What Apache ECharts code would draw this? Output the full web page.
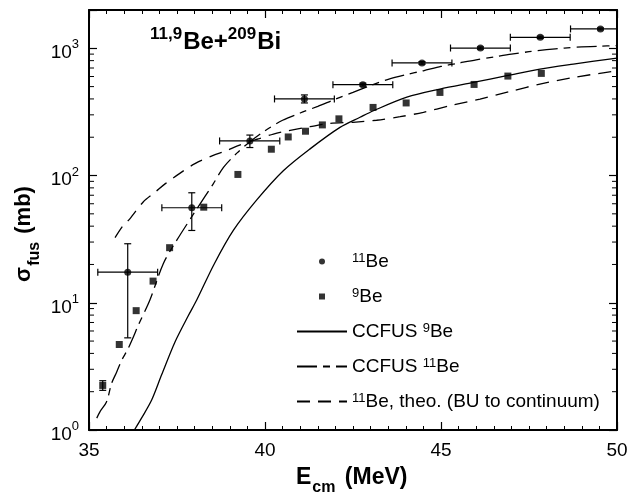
<!DOCTYPE html>
<html><head><meta charset="utf-8">
<script src="https://cdn.jsdelivr.net/npm/echarts@6/dist/echarts.min.js"></script>
<style>html,body{margin:0;padding:0;background:#fff}#c{width:632px;height:493px}</style>
</head><body><div id="c"></div>
<script>
// ---- data ----
const xTicks = [35, 40, 45, 50];
const yMinorTicks = [2,3,4,5,6,7,8,9,20,30,40,50,60,70,80,90,200,300,400,500,600,700,800,900];

// 11Be data (circles) with error bars
const be11E    = [36.10, 37.92, 39.57, 41.12, 42.78, 44.46, 46.12, 47.82, 49.53];
const be11Sig  = [17.4, 55.8, 187, 400, 518, 768, 1005, 1220, 1420];
const be11ELo  = [35.25, 37.07, 38.71, 40.27, 41.93, 43.61, 45.27, 46.97, 48.68];
const be11EHi  = [36.95, 38.77, 40.42, 41.97, 43.63, 45.31, 46.97, 48.67, 50.38];
const be11SLo  = [5.3, 37.0, 166, 372, 505, 750, 985, 1195, 1395];
const be11SHi  = [29.1, 73.2, 208, 430, 532, 786, 1025, 1245, 1445];

// 9Be data (squares)
const be9E   = [35.39, 35.86, 36.34, 36.82, 37.29, 38.26, 39.23, 40.18, 40.66, 41.15, 41.63, 42.10, 43.07, 44.01, 44.97, 45.94, 46.90, 47.85];
const be9Sig = [2.24, 4.70, 8.67, 14.8, 27.1, 56.4, 102, 161, 201, 223, 250, 279, 343, 372, 450, 520, 605, 635];
const be9SLo = [2.05, 4.70, 8.67, 14.8, 27.1, 56.4, 102, 161, 201, 223, 250, 279, 343, 372, 450, 520, 605, 635];
const be9SHi = [2.44, 4.70, 8.67, 14.8, 27.1, 56.4, 102, 161, 201, 223, 250, 279, 343, 372, 450, 520, 605, 635];

// CCFUS 9Be (solid)
const ccfus9E   = [36.29, 36.5, 36.78, 37.06, 37.44, 37.82, 38.06, 38.55, 39.1, 39.76, 40.52, 41.28, 42.13, 42.7, 43.08, 44.03, 44.97, 45.92, 46.87, 47.81, 48.76, 50.0];
const ccfus9Sig = [1.0, 1.25, 1.72, 2.7, 4.9, 7.9, 10.5, 20, 37, 64, 109, 162, 239, 287, 323, 413, 478, 539, 609, 687, 752, 838];

// CCFUS 11Be (dash-dot)
const ccfus11E   = [35.22, 35.31, 35.5, 35.64, 35.79, 35.93, 36.1, 36.26, 36.4, 36.73, 37.11, 37.49, 38.07, 38.53, 38.82, 39.2, 39.6, 40.0, 40.5, 41.0, 41.5, 42.0, 42.5, 43.0, 43.5, 44.0, 44.5, 45.0, 45.5, 46.0, 46.5, 47.0, 47.5, 48.0, 48.5, 49.0, 49.5, 50.0];
const ccfus11Sig = [1.24, 1.39, 1.67, 2.32, 2.87, 3.54, 4.3, 5.39, 6.66, 10.5, 20.3, 30.9, 55, 86, 116, 150, 187, 225, 272, 310, 350, 398, 450, 510, 570, 620, 666, 720, 765, 812, 855, 900, 940, 975, 1005, 1025, 1038, 1050];

// 11Be theo. (BU to continuum) (dashed)
const buE   = [35.74, 35.97, 36.16, 36.54, 36.88, 37.16, 37.6, 38.01, 38.53, 38.86, 39.2, 39.6, 39.81, 40.24, 40.66, 41.28, 41.85, 42.5, 43.17, 43.84, 44.5, 45.26, 46.11, 47.05, 47.81, 48.76, 50.0];
const buSig = [32.5, 40.5, 45.7, 62, 74, 86, 105, 124, 144, 155, 170, 187, 194, 212, 225, 242, 257, 262, 272, 290, 314, 354, 399, 464, 524, 590, 666];

const seriesNames = ['11Be', '9Be', 'CCFUS 9Be', 'CCFUS 11Be', '11Be theo'];
const legendLabels = ['{s|11}Be', '{s|9}Be', 'CCFUS {s|9}Be', 'CCFUS {s|11}Be', '{s|11}Be, theo. (BU to continuum)'];

// ---- chart ----
const FONT = '"Liberation Sans", Arial, sans-serif';
const zip = (a, b) => a.map((v, i) => [v, b[i]]);
const chart = echarts.init(document.getElementById('c'), null, {renderer: 'canvas'});

const X_MIN = 35, X_MAX = 50;

function errRender(params, api) {
  const e = api.value(0), s = api.value(1), el = api.value(2), eh = api.value(3), sl = api.value(4), sh = api.value(5);
  const c = api.coord([e, s]);
  const children = [];
  const st = {stroke: '#000', lineWidth: 1.2};
  if (eh > el) {
    const l = api.coord([el, s]), r = api.coord([eh, s]);
    children.push({type: 'line', shape: {x1: l[0], y1: c[1], x2: r[0], y2: c[1]}, style: st});
    children.push({type: 'line', shape: {x1: l[0], y1: c[1] - 3.5, x2: l[0], y2: c[1] + 3.5}, style: st});
    children.push({type: 'line', shape: {x1: r[0], y1: c[1] - 3.5, x2: r[0], y2: c[1] + 3.5}, style: st});
  }
  if (sh > sl) {
    const b = api.coord([e, sl]), t = api.coord([e, sh]);
    children.push({type: 'line', shape: {x1: c[0], y1: b[1], x2: c[0], y2: t[1]}, style: st});
    children.push({type: 'line', shape: {x1: c[0] - 3.5, y1: b[1], x2: c[0] + 3.5, y2: b[1]}, style: st});
    children.push({type: 'line', shape: {x1: c[0] - 3.5, y1: t[1], x2: c[0] + 3.5, y2: t[1]}, style: st});
  }
  return {type: 'group', children};
}

function minorTickRender(params, api) {
  const v = api.value(1);
  const pl = api.coord([X_MIN, v]), pr = api.coord([X_MAX, v]);
  const st = {stroke: '#000', lineWidth: 1};
  return {type: 'group', children: [
    {type: 'line', shape: {x1: pl[0], y1: pl[1], x2: pl[0] + 5, y2: pl[1]}, style: st},
    {type: 'line', shape: {x1: pr[0] - 5, y1: pr[1], x2: pr[0], y2: pr[1]}, style: st}
  ]};
}

const xAxisBase = {
  type: 'value', min: X_MIN, max: X_MAX, interval: 5,
  axisLine: {show: true, onZero: false, lineStyle: {color: '#000', width: 2}},
  axisTick: {show: true, inside: true, length: 8, lineStyle: {color: '#000', width: 1.2}},
  minorTick: {show: true, splitNumber: 10, length: 4, lineStyle: {color: '#000', width: 1}},
  splitLine: {show: false}
};
const yAxisBase = {
  type: 'log', logBase: 10, min: 1, max: 2000,
  axisLine: {show: true, onZero: false, lineStyle: {color: '#000', width: 2}},
  axisTick: {show: true, inside: true, length: 8, lineStyle: {color: '#000', width: 1.2}},
  splitLine: {show: false}, minorTick: {show: false}
};

const hideSym = {opacity: 0};
const option = {
  animation: false,
  backgroundColor: '#fff',
  grid: {left: 89, right: 15, top: 10, bottom: 63, containLabel: false},
  xAxis: [
    Object.assign({}, xAxisBase, {position: 'bottom',
      axisLabel: {show: true, color: '#000', fontFamily: FONT, fontSize: 19, margin: 11,
        formatter: v => xTicks.includes(v) ? String(v) : ''}}),
    Object.assign({}, xAxisBase, {position: 'top', axisLabel: {show: false}})
  ],
  yAxis: [
    Object.assign({}, yAxisBase, {position: 'left',
      axisLabel: {show: true, color: '#000', fontFamily: FONT, fontSize: 19, margin: 10,
        formatter: v => {
          const l = Math.log10(v), e = Math.round(l);
          if (Math.abs(l - e) > 1e-6) return '';
          return '{b|10}{s|' + e + '}';
        },
        rich: {
          b: {fontFamily: FONT, fontSize: 19, lineHeight: 20, padding: [5, 0, 3, 0], verticalAlign: 'top', color: '#000'},
          s: {fontFamily: FONT, fontSize: 13, lineHeight: 14, verticalAlign: 'top', color: '#000'}
        }}}),
    Object.assign({}, yAxisBase, {position: 'right', axisLabel: {show: false}})
  ],
  legend: {
    orient: 'vertical', left: 296, top: 252, padding: 0,
    itemWidth: 50, itemHeight: 6, itemGap: 16,
    symbolKeepAspect: true,
    data: [
      {name: seriesNames[0], icon: 'circle'},
      {name: seriesNames[1], icon: 'path://M0,0L10,0L10,10L0,10Z'},
      {name: seriesNames[2], itemStyle: hideSym},
      {name: seriesNames[3], itemStyle: hideSym},
      {name: seriesNames[4], itemStyle: hideSym}
    ],
    formatter: name => legendLabels[seriesNames.indexOf(name)],
    textStyle: {
      color: '#000', fontFamily: FONT, fontSize: 19,
      rich: {
        s: {fontFamily: FONT, fontSize: 13, lineHeight: 14, verticalAlign: 'top', color: '#000'}
      }
    },
    selectedMode: false
  },
  graphic: [
    {type: 'text', left: 150, top: 26, z: 100,
      style: {text: '{s|11,9}{b|Be+}{s|209}{b|Bi}',
        rich: {
          b: {font: 'bold 24px ' + FONT, lineHeight: 26, padding: [4, 0, 0, 0], verticalAlign: 'top', fill: '#000'},
          s: {font: 'bold 17px ' + FONT, lineHeight: 17, padding: [0, 1, 0, 0], verticalAlign: 'top', fill: '#000'}
        }}},
    {type: 'text', left: 296, top: 466, z: 100,
      style: {text: '{b|E}{sub|cm}{b| (MeV)}',
        rich: {
          b: {font: 'bold 23px ' + FONT, lineHeight: 24, verticalAlign: 'top', fill: '#000'},
          sub: {font: 'bold 16px ' + FONT, lineHeight: 15, padding: [14, 3, 0, 1], verticalAlign: 'top', fill: '#000'}
        }}},
    {type: 'text', x: 25, y: 234, rotation: Math.PI / 2, z: 100,
      style: {text: '{b|σ}{sub|fus}{b| (mb)}', align: 'center', verticalAlign: 'middle',
        rich: {
          b: {font: 'bold 22px ' + FONT, lineHeight: 24, verticalAlign: 'top', fill: '#000'},
          sub: {font: 'bold 16px ' + FONT, lineHeight: 15, padding: [14, 2, 0, 1], verticalAlign: 'top', fill: '#000'}
        }}}
  ],
  series: [
    {name: seriesNames[0], type: 'scatter', data: zip(be11E, be11Sig), symbol: 'circle', symbolSize: 7,
      itemStyle: {color: '#000'}, z: 5},
    {name: seriesNames[1], type: 'scatter', data: zip(be9E, be9Sig), symbol: 'rect', symbolSize: 7,
      itemStyle: {color: '#000'}, z: 5},
    {name: seriesNames[2], type: 'line', data: zip(ccfus9E, ccfus9Sig), showSymbol: false, symbol: 'none',
      smooth: 0.3, itemStyle: {color: '#000'}, lineStyle: {color: '#000', width: 1.3, type: 'solid'}, z: 3},
    {name: seriesNames[3], type: 'line', data: zip(ccfus11E, ccfus11Sig), showSymbol: false, symbol: 'none',
      smooth: 0.3, itemStyle: {color: '#000'}, lineStyle: {color: '#000', width: 1.3, type: [20, 6, 7, 6]}, z: 3},
    {name: seriesNames[4], type: 'line', data: zip(buE, buSig), showSymbol: false, symbol: 'none',
      smooth: 0.3, itemStyle: {color: '#000'}, lineStyle: {color: '#000', width: 1.3, type: [13, 8]}, z: 3},
    {name: 'err11', type: 'custom', renderItem: errRender, clip: true, z: 4,
      data: be11E.map((e, i) => [e, be11Sig[i], be11ELo[i], be11EHi[i], be11SLo[i], be11SHi[i]])},
    {name: 'err9', type: 'custom', renderItem: errRender, clip: true, z: 4,
      data: be9E.map((e, i) => [e, be9Sig[i], e, e, be9SLo[i], be9SHi[i]])},
    {name: 'yminor', type: 'custom', renderItem: minorTickRender, z: 6, silent: true,
      data: yMinorTicks.map(v => [X_MIN, v])}
  ]
};
chart.setOption(option);
</script>
</body></html>
